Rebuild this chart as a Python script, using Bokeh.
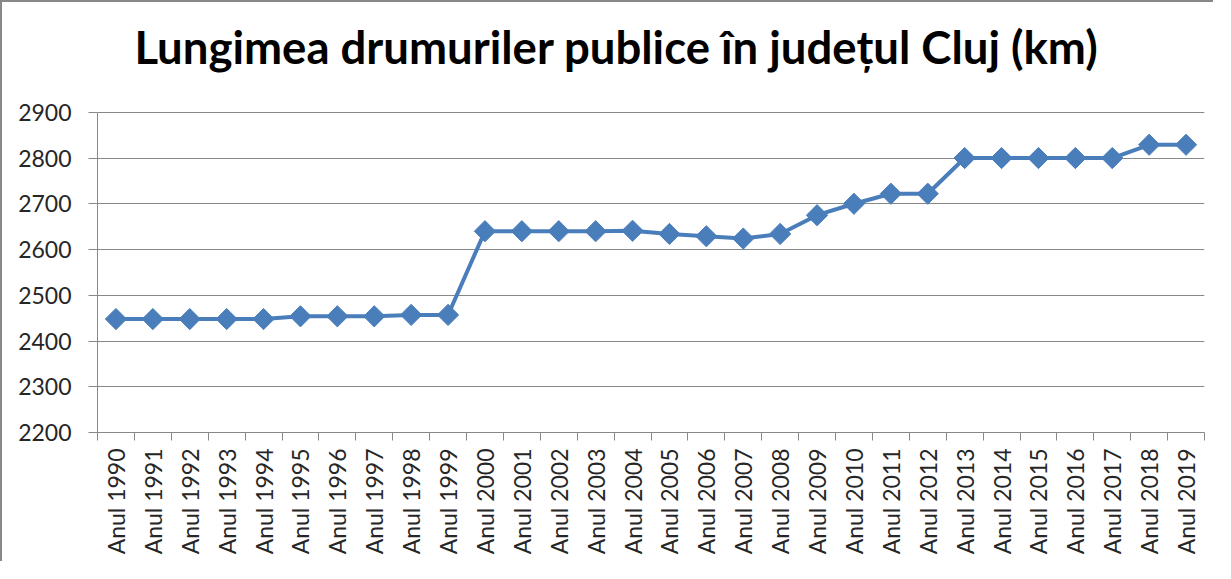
from bokeh.plotting import figure
from bokeh.models import FixedTicker, Range1d, Label, ColumnDataSource
from bokeh.embed import file_html
from bokeh.resources import INLINE
import math

years = [str(y) for y in range(1990, 2020)]
labels = ["Anul " + y for y in years]
values = [2448, 2448, 2448, 2448, 2448,
          2454, 2454, 2454, 2457, 2457,
          2640, 2640, 2640, 2640, 2641,
          2634, 2629, 2624, 2634, 2675,
          2700, 2722, 2722, 2800, 2800,
          2800, 2800, 2800, 2829, 2829]
y_ticks = [2200, 2300, 2400, 2500, 2600, 2700, 2800, 2900]
title_text = "Lungimea drumuriler publice în județul Cluj (km)"

n = len(labels)
xs = [i + 0.5 for i in range(n)]
src = ColumnDataSource(dict(x=xs, y=values, label=labels))

GRAY = "#888888"
BLUE = "#4a7ebb"
FONT = "Lato"

# The frame extends up to the top of the canvas so the title can sit inside it;
# the value axis itself is bounded to 2200..2900.
p = figure(width=1213, height=561, output_backend="svg", toolbar_location=None,
           x_range=Range1d(0, n), y_range=Range1d(2200, 3140),
           min_border_left=95, min_border_top=0, min_border_right=11,
           min_border_bottom=131)
p.styles = {"border-left": "2px solid #888888", "border-top": "2px solid #888888"}

p.outline_line_color = None
p.background_fill_color = "white"
p.border_fill_color = "white"

title = Label(x=1.0, y=3044, x_units="data", y_units="data", text=title_text,
              text_font=FONT, text_font_style="bold", text_font_size="45.5px",
              text_color="#000000", text_align="left", text_baseline="alphabetic")
p.add_layout(title)

# grid
p.xgrid.visible = False
p.ygrid.ticker = FixedTicker(ticks=y_ticks)
p.ygrid.grid_line_color = GRAY
p.ygrid.grid_line_width = 1

# y axis
ya = p.yaxis[0]
ya.ticker = FixedTicker(ticks=y_ticks)
ya.bounds = (2200, 2900)
ya.axis_line_color = GRAY
ya.major_tick_line_color = GRAY
ya.major_tick_out = 9
ya.major_tick_in = 0
ya.minor_tick_line_color = None
ya.major_label_text_font = FONT
ya.major_label_text_font_size = "23px"
ya.major_label_text_color = "#262626"
ya.major_label_standoff = 17

# x axis
xa = p.xaxis[0]
xa.ticker = FixedTicker(ticks=xs, minor_ticks=list(range(n + 1)))
xa.major_label_overrides = {x: l for x, l in zip(xs, labels)}
xa.major_label_orientation = math.pi / 2
xa.axis_line_color = GRAY
xa.major_tick_line_color = None
xa.major_tick_out = 0
xa.major_tick_in = 0
xa.minor_tick_line_color = GRAY
xa.minor_tick_out = 8
xa.minor_tick_in = 0
xa.major_label_text_font = FONT
xa.major_label_text_font_size = "23px"
xa.major_label_text_color = "#262626"
xa.major_label_standoff = 8

p.line("x", "y", source=src, line_color=BLUE, line_width=4)
p.scatter("x", "y", source=src, marker="square", angle=math.pi / 4, size=15,
          fill_color=BLUE, line_color=BLUE)

open("out.html", "w").write(file_html(p, INLINE))
